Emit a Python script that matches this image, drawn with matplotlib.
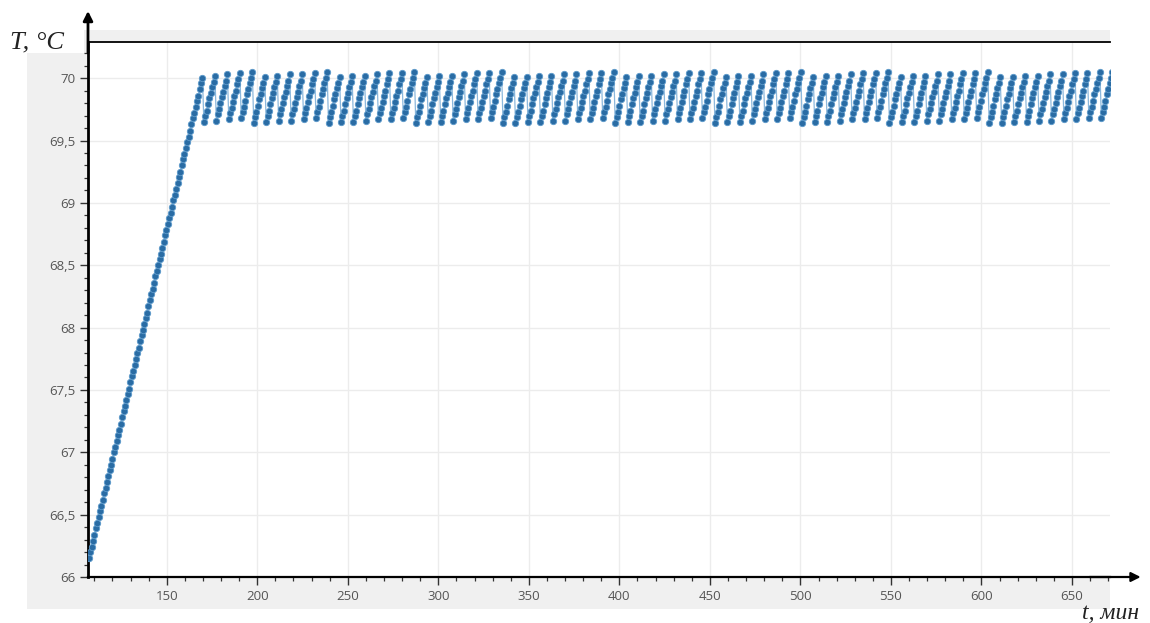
import numpy as np
import matplotlib
matplotlib.use('Agg')
import matplotlib.pyplot as plt
from matplotlib.patches import Rectangle
from matplotlib.ticker import MultipleLocator, FixedLocator, FixedFormatter

# ---------------- data ----------------
t_start = 107.0      # first sample time, min
dt = 0.765           # sampling interval, min

ramp_T = [66.15, 66.20, 66.24, 66.29, 66.34, 66.39, 66.43, 66.48, 66.53, 66.57,
          66.62, 66.67, 66.71, 66.76, 66.81, 66.86, 66.90, 66.95, 67.00, 67.04,
          67.09, 67.14, 67.18, 67.23, 67.28, 67.33, 67.37, 67.42, 67.47, 67.51,
          67.56, 67.61, 67.65, 67.70, 67.75, 67.80, 67.84, 67.89, 67.94, 67.98,
          68.03, 68.08, 68.12, 68.17, 68.22, 68.27, 68.31, 68.36, 68.41, 68.45,
          68.50, 68.55, 68.59, 68.64, 68.69, 68.74, 68.78, 68.83, 68.88, 68.92,
          68.97, 69.02, 69.06, 69.11, 69.16, 69.21, 69.25, 69.30, 69.35, 69.39,
          69.44, 69.49, 69.53, 69.58, 69.63, 69.68, 69.72, 69.77, 69.82, 69.86,
          69.91, 69.96, 70.00]

cycle_T = [
    [69.65, 69.70, 69.74, 69.79, 69.84, 69.88, 69.93, 69.97, 70.02],
    [69.66, 69.71, 69.75, 69.80, 69.85, 69.89, 69.94, 69.98, 70.03],
    [69.67, 69.72, 69.76, 69.81, 69.86, 69.90, 69.95, 69.99, 70.04],
    [69.68, 69.73, 69.77, 69.82, 69.87, 69.91, 69.96, 70.00, 70.05],
    [69.64, 69.69, 69.73, 69.78, 69.83, 69.87, 69.92, 69.96, 70.01],
    [69.65, 69.70, 69.74, 69.79, 69.84, 69.88, 69.93, 69.97, 70.02],
    [69.66, 69.71, 69.75, 69.80, 69.85, 69.89, 69.94, 69.98, 70.03],
    [69.66, 69.71, 69.75, 69.80, 69.85, 69.89, 69.94, 69.98, 70.03],
    [69.67, 69.72, 69.76, 69.81, 69.86, 69.90, 69.95, 69.99, 70.04],
    [69.68, 69.73, 69.77, 69.82, 69.87, 69.91, 69.96, 70.00, 70.05],
    [69.64, 69.69, 69.73, 69.78, 69.83, 69.87, 69.92, 69.96, 70.01],
    [69.65, 69.70, 69.74, 69.79, 69.84, 69.88, 69.93, 69.97, 70.02],
    [69.65, 69.70, 69.74, 69.79, 69.84, 69.88, 69.93, 69.97, 70.02],
    [69.66, 69.71, 69.75, 69.80, 69.85, 69.89, 69.94, 69.98, 70.03],
    [69.67, 69.72, 69.76, 69.81, 69.86, 69.90, 69.95, 69.99, 70.04],
    [69.67, 69.72, 69.76, 69.81, 69.86, 69.90, 69.95, 69.99, 70.04],
    [69.68, 69.73, 69.77, 69.82, 69.87, 69.91, 69.96, 70.00, 70.05],
    [69.64, 69.69, 69.73, 69.78, 69.83, 69.87, 69.92, 69.96, 70.01],
    [69.65, 69.70, 69.74, 69.79, 69.84, 69.88, 69.93, 69.97, 70.02],
    [69.65, 69.70, 69.74, 69.79, 69.84, 69.88, 69.93, 69.97, 70.02],
    [69.66, 69.71, 69.75, 69.80, 69.85, 69.89, 69.94, 69.98, 70.03],
    [69.67, 69.72, 69.76, 69.81, 69.86, 69.90, 69.95, 69.99, 70.04],
    [69.67, 69.72, 69.76, 69.81, 69.86, 69.90, 69.95, 69.99, 70.04],
    [69.68, 69.73, 69.77, 69.82, 69.87, 69.91, 69.96, 70.00, 70.05],
    [69.64, 69.69, 69.73, 69.78, 69.83, 69.87, 69.92, 69.96, 70.01],
    [69.64, 69.69, 69.73, 69.78, 69.83, 69.87, 69.92, 69.96, 70.01],
    [69.65, 69.70, 69.74, 69.79, 69.84, 69.88, 69.93, 69.97, 70.02],
    [69.65, 69.70, 69.74, 69.79, 69.84, 69.88, 69.93, 69.97, 70.02],
    [69.66, 69.71, 69.75, 69.80, 69.85, 69.89, 69.94, 69.98, 70.03],
    [69.66, 69.71, 69.75, 69.80, 69.85, 69.89, 69.94, 69.98, 70.03],
    [69.67, 69.72, 69.76, 69.81, 69.86, 69.90, 69.95, 69.99, 70.04],
    [69.67, 69.72, 69.76, 69.81, 69.86, 69.90, 69.95, 69.99, 70.04],
    [69.68, 69.73, 69.77, 69.82, 69.87, 69.91, 69.96, 70.00, 70.05],
    [69.64, 69.69, 69.73, 69.78, 69.83, 69.87, 69.92, 69.96, 70.01],
    [69.65, 69.70, 69.74, 69.79, 69.84, 69.88, 69.93, 69.97, 70.02],
    [69.65, 69.70, 69.74, 69.79, 69.84, 69.88, 69.93, 69.97, 70.02],
    [69.66, 69.71, 69.75, 69.80, 69.85, 69.89, 69.94, 69.98, 70.03],
    [69.66, 69.71, 69.75, 69.80, 69.85, 69.89, 69.94, 69.98, 70.03],
    [69.67, 69.72, 69.76, 69.81, 69.86, 69.90, 69.95, 69.99, 70.04],
    [69.67, 69.72, 69.76, 69.81, 69.86, 69.90, 69.95, 69.99, 70.04],
    [69.68, 69.73, 69.77, 69.82, 69.87, 69.91, 69.96, 70.00, 70.05],
    [69.64, 69.69, 69.73, 69.78, 69.83, 69.87, 69.92, 69.96, 70.01],
    [69.65, 69.70, 69.74, 69.79, 69.84, 69.88, 69.93, 69.97, 70.02],
    [69.65, 69.70, 69.74, 69.79, 69.84, 69.88, 69.93, 69.97, 70.02],
    [69.66, 69.71, 69.75, 69.80, 69.85, 69.89, 69.94, 69.98, 70.03],
    [69.67, 69.72, 69.76, 69.81, 69.86, 69.90, 69.95, 69.99, 70.04],
    [69.67, 69.72, 69.76, 69.81, 69.86, 69.90, 69.95, 69.99, 70.04],
    [69.68, 69.73, 69.77, 69.82, 69.87, 69.91, 69.96, 70.00, 70.05],
    [69.64, 69.69, 69.73, 69.78, 69.83, 69.87, 69.92, 69.96, 70.01],
    [69.65, 69.70, 69.74, 69.79, 69.84, 69.88, 69.93, 69.97, 70.02],
    [69.65, 69.70, 69.74, 69.79, 69.84, 69.88, 69.93, 69.97, 70.02],
    [69.66, 69.71, 69.75, 69.80, 69.85, 69.89, 69.94, 69.98, 70.03],
    [69.67, 69.72, 69.76, 69.81, 69.86, 69.90, 69.95, 69.99, 70.04],
    [69.67, 69.72, 69.76, 69.81, 69.86, 69.90, 69.95, 69.99, 70.04],
    [69.68, 69.73, 69.77, 69.82, 69.87, 69.91, 69.96, 70.00, 70.05],
    [69.64, 69.69, 69.73, 69.78, 69.83, 69.87, 69.92, 69.96, 70.01],
    [69.65, 69.70, 69.74, 69.79, 69.84, 69.88, 69.93, 69.97, 70.02],
    [69.65, 69.70, 69.74, 69.79, 69.84, 69.88, 69.93, 69.97, 70.02],
    [69.66, 69.71, 69.75, 69.80, 69.85, 69.89, 69.94, 69.98, 70.03],
    [69.66, 69.71, 69.75, 69.80, 69.85, 69.89, 69.94, 69.98, 70.03],
    [69.67, 69.72, 69.76, 69.81, 69.86, 69.90, 69.95, 69.99, 70.04],
    [69.67, 69.72, 69.76, 69.81, 69.86, 69.90, 69.95, 69.99, 70.04],
    [69.68, 69.73, 69.77, 69.82, 69.87, 69.91, 69.96, 70.00, 70.05],
    [69.64, 69.69, 69.73, 69.78, 69.83, 69.87, 69.92, 69.96, 70.01],
    [69.64, 69.69, 69.73, 69.78, 69.83, 69.87, 69.92, 69.96, 70.01],
    [69.65, 69.70, 69.74, 69.79, 69.84, 69.88, 69.93, 69.97, 70.02],
    [69.65, 69.70, 69.74, 69.79, 69.84, 69.88, 69.93, 69.97, 70.02],
    [69.66, 69.71, 69.75, 69.80, 69.85, 69.89, 69.94, 69.98, 70.03],
    [69.66, 69.71, 69.75, 69.80, 69.85, 69.89, 69.94, 69.98, 70.03],
    [69.67, 69.72, 69.76, 69.81, 69.86, 69.90, 69.95, 69.99, 70.04],
    [69.67, 69.72, 69.76, 69.81, 69.86, 69.90, 69.95, 69.99, 70.04],
    [69.68, 69.73, 69.77, 69.82, 69.87, 69.91, 69.96, 70.00, 70.05],
    [69.68, 69.73, 69.77, 69.82, 69.87, 69.91, 69.96, 70.00, 70.05],
]

x_ticks = [150, 200, 250, 300, 350, 400, 450, 500, 550, 600, 650]
y_ticks = [66, 66.5, 67, 67.5, 68, 68.5, 69, 69.5, 70]
y_tick_labels = ['66', '66,5', '67', '67,5', '68', '68,5', '69', '69,5', '70']
x_label = 't, мин'
y_label = 'T, °C'

# ---------------- figure ----------------
W, H = 1150, 623
fig = plt.figure(figsize=(W / 100, H / 100), dpi=100)
fig.patch.set_facecolor('white')

# grey panel behind the chart
fig.patches.append(Rectangle((27 / W, 1 - 609 / H), (1110 - 27) / W, (609 - 30) / H,
                             transform=fig.transFigure, facecolor='#f0f0f0',
                             edgecolor='none', zorder=0))
# white box behind the y label
fig.patches.append(Rectangle((0, 1 - 53 / H), 84 / W, 53 / H,
                             transform=fig.transFigure, facecolor='white',
                             edgecolor='none', zorder=0.5))

ax = fig.add_axes([88 / W, 1 - 577 / H, (1110 - 88) / W, (577 - 42) / H], zorder=1)
ax.set_facecolor('white')

T = np.array(ramp_T + [v for row in cycle_T for v in row])
t = t_start + dt * np.arange(len(T))

ax.plot(t, T, color='#8cb8dc', lw=0.9, zorder=2)
ax.plot(t, T, linestyle='none', marker='o', ms=4.6, color='#2a6ca4',
        markeredgecolor='#5d9acb', markeredgewidth=0.6, zorder=3)

ax.set_xlim(106.5, 671)
ax.set_ylim(66.0, 70.29)

ax.xaxis.set_major_locator(FixedLocator(x_ticks))
ax.xaxis.set_minor_locator(MultipleLocator(10))
ax.yaxis.set_major_locator(FixedLocator(y_ticks))
ax.yaxis.set_major_formatter(FixedFormatter(y_tick_labels))
ax.yaxis.set_minor_locator(MultipleLocator(0.1))

ax.grid(True, which='major', color='#ececec', lw=1.0, zorder=0)
ax.set_axisbelow(True)

for lab in ax.get_xticklabels() + ax.get_yticklabels():
    lab.set_fontfamily('Open Sans')
    lab.set_fontsize(9.5)
ax.tick_params(which='major', direction='out', length=6, width=1.0, color='#333333',
               labelcolor='#555555', pad=3)
ax.tick_params(which='minor', direction='out', length=3, width=0.9, color='#333333')

ax.spines['right'].set_visible(False)
ax.spines['top'].set_color('black')
ax.spines['top'].set_linewidth(1.3)
ax.spines['left'].set_color('black')
ax.spines['left'].set_linewidth(2.0)
ax.spines['bottom'].set_color('black')
ax.spines['bottom'].set_linewidth(1.6)

# axis arrows
ax.annotate('', xy=(0, 1.058), xytext=(0, 0.98), xycoords='axes fraction',
            textcoords='axes fraction', annotation_clip=False,
            arrowprops=dict(arrowstyle='-|>', color='black', lw=2.0,
                            mutation_scale=14, shrinkA=0, shrinkB=0))
ax.annotate('', xy=(1.03, 0), xytext=(0.98, 0), xycoords='axes fraction',
            textcoords='axes fraction', annotation_clip=False,
            arrowprops=dict(arrowstyle='-|>', color='black', lw=1.6,
                            mutation_scale=14, shrinkA=0, shrinkB=0))

fig.text(10 / W, 1 - 48 / H, y_label, family='Liberation Serif', style='italic',
         fontsize=19, color='#222222', ha='left', va='baseline', zorder=5)
fig.text(1082 / W, 1 - 619 / H, x_label, family='Liberation Serif', style='italic',
         fontsize=17, color='#222222', ha='left', va='baseline', zorder=5)

fig.savefig('out.png', dpi=100, facecolor='white')
